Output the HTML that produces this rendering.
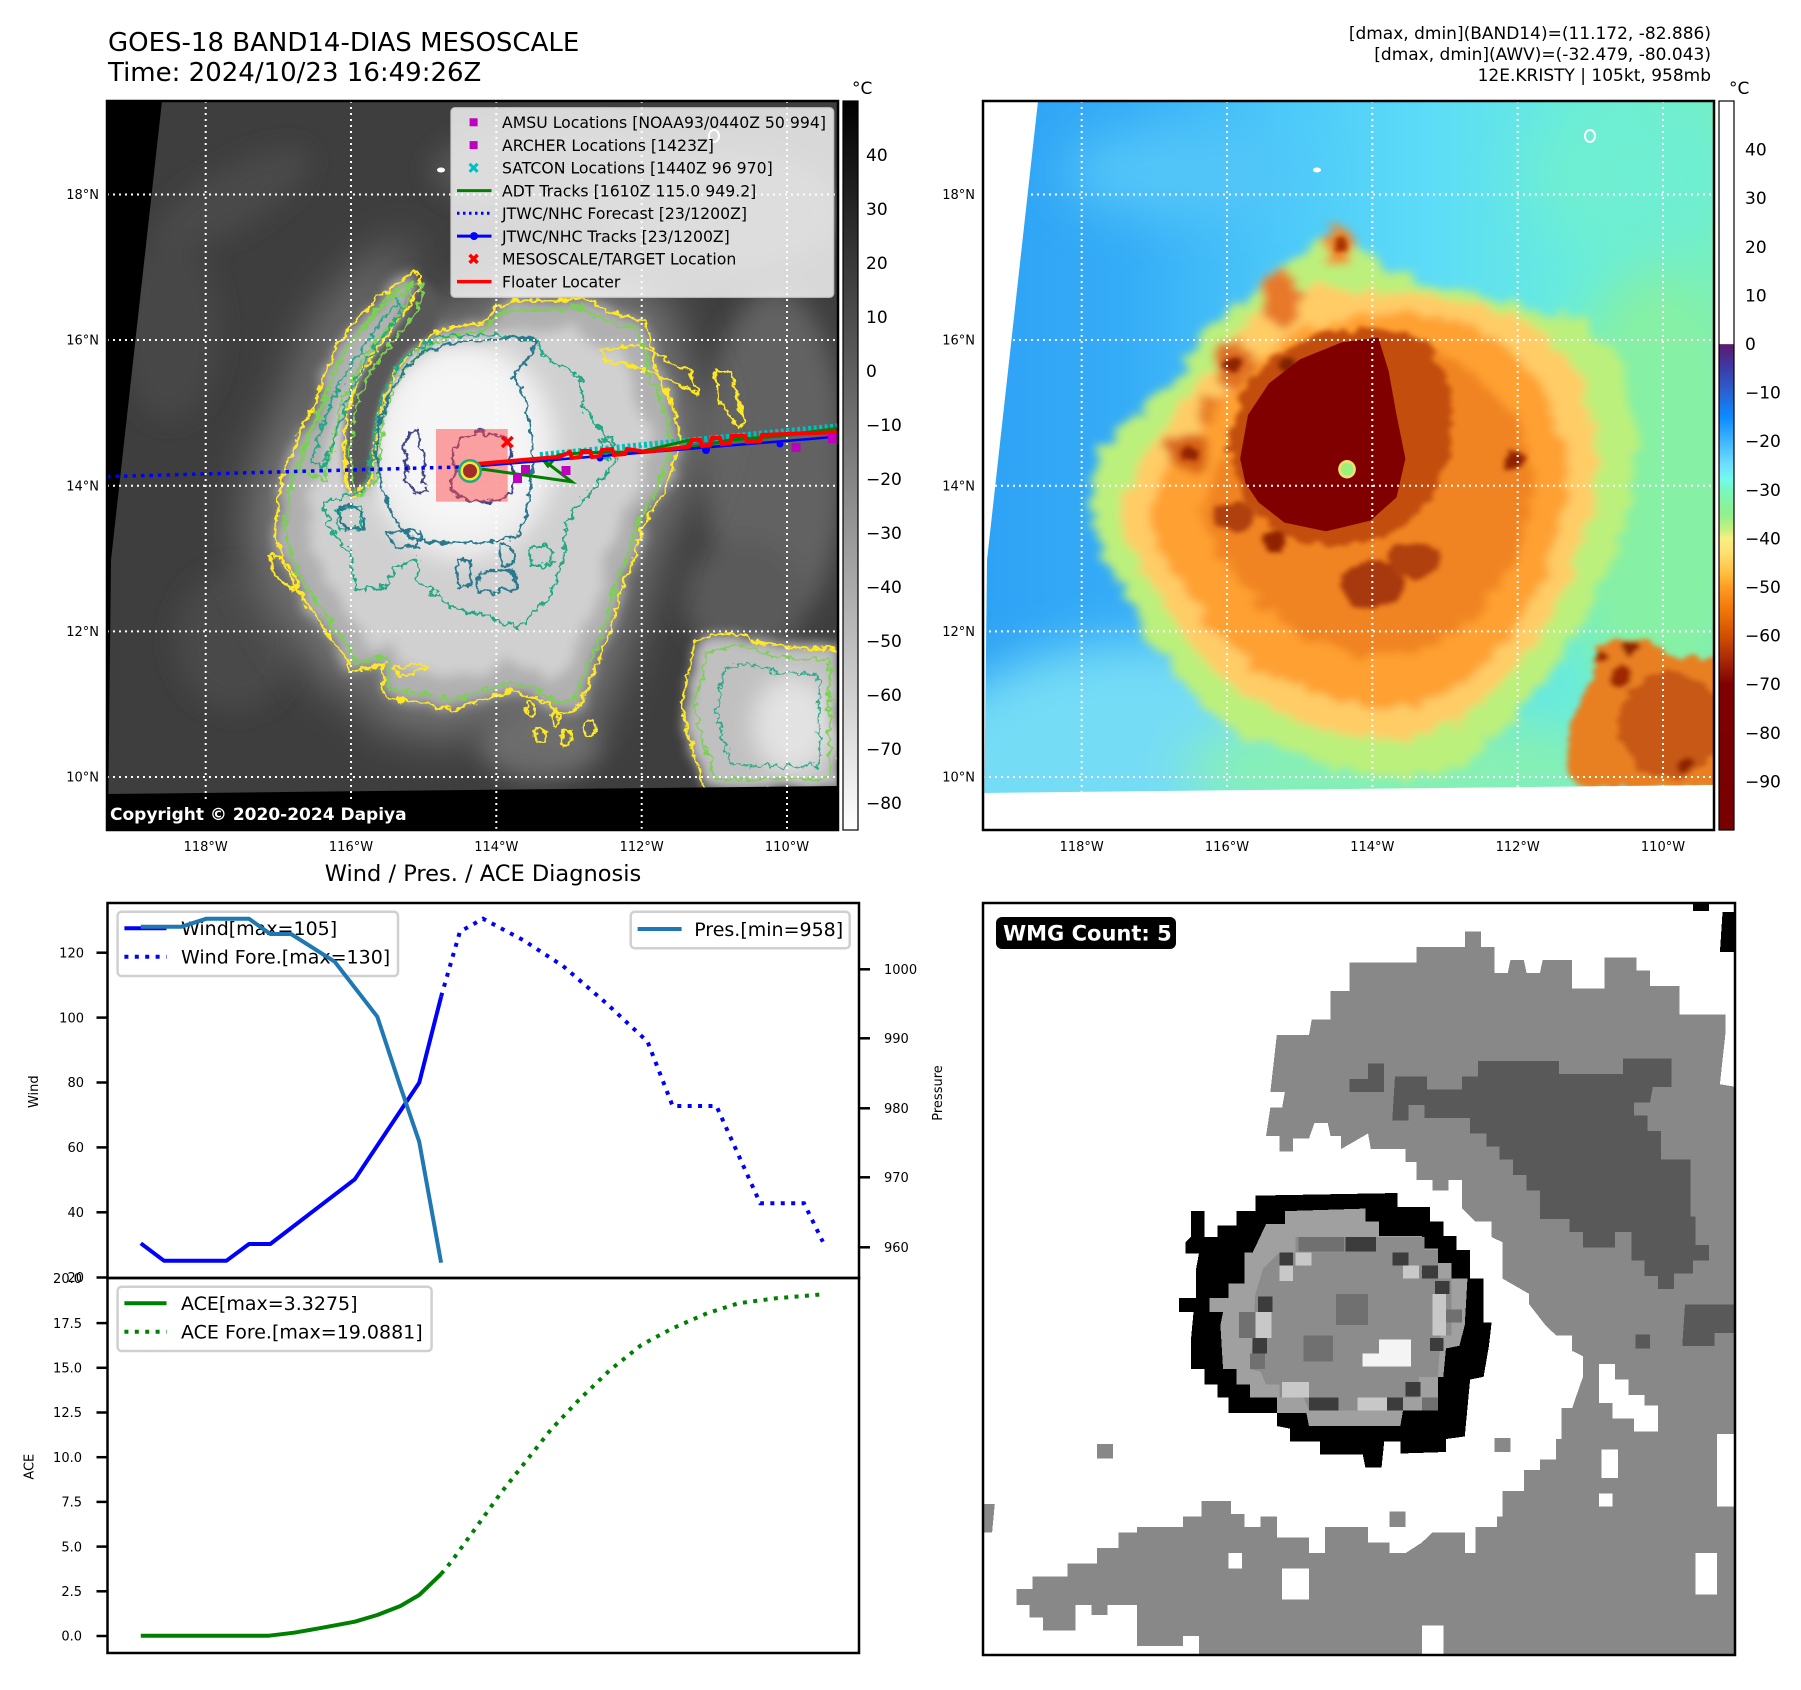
<!DOCTYPE html>
<html><head><meta charset="utf-8">
<style>html,body{margin:0;padding:0;background:#fff}svg{display:block}text{font-family:"DejaVu Sans","Liberation Sans",sans-serif}</style>
</head><body>
<svg width="1801" height="1690" viewBox="0 0 1801 1690" xmlns="http://www.w3.org/2000/svg">
<defs>
<clipPath id="cpL"><rect x="107" y="101" width="731" height="729"/></clipPath>
<clipPath id="cpR"><rect x="983" y="101" width="731" height="729"/></clipPath>
<clipPath id="cpW"><rect x="983" y="903" width="752" height="752"/></clipPath>
<filter id="b4" x="-20%" y="-20%" width="140%" height="140%"><feGaussianBlur stdDeviation="4"/></filter>
<filter id="b6" x="-20%" y="-20%" width="140%" height="140%"><feGaussianBlur stdDeviation="6"/></filter>
<filter id="b12" x="-40%" y="-40%" width="180%" height="180%"><feGaussianBlur stdDeviation="12"/></filter>
<filter id="b20" x="-50%" y="-50%" width="200%" height="200%"><feGaussianBlur stdDeviation="20"/></filter>
<filter id="ragL" x="-10%" y="-10%" width="120%" height="120%"><feTurbulence type="fractalNoise" baseFrequency="0.03" numOctaves="3" seed="8" result="n"/><feDisplacementMap in="SourceGraphic" in2="n" scale="24" xChannelSelector="R" yChannelSelector="G" result="d"/><feGaussianBlur in="d" stdDeviation="6"/></filter>
<filter id="rb4" x="-20%" y="-20%" width="140%" height="140%"><feGaussianBlur stdDeviation="5"/></filter>
<filter id="ragR" x="-10%" y="-10%" width="120%" height="120%"><feTurbulence type="fractalNoise" baseFrequency="0.03" numOctaves="3" seed="5" result="n"/><feDisplacementMap in="SourceGraphic" in2="n" scale="45" xChannelSelector="R" yChannelSelector="G" result="d"/><feGaussianBlur in="d" stdDeviation="9"/></filter>
<filter id="ragR2" x="-10%" y="-10%" width="120%" height="120%"><feTurbulence type="fractalNoise" baseFrequency="0.04" numOctaves="3" seed="9" result="n"/><feDisplacementMap in="SourceGraphic" in2="n" scale="28" xChannelSelector="R" yChannelSelector="G" result="d"/><feGaussianBlur in="d" stdDeviation="5"/></filter>
<filter id="rb40" x="-50%" y="-50%" width="200%" height="200%"><feGaussianBlur stdDeviation="50"/></filter>
<filter id="wig1" x="-10%" y="-10%" width="120%" height="120%"><feTurbulence type="fractalNoise" baseFrequency="0.12" numOctaves="3" seed="3" result="n"/><feDisplacementMap in="SourceGraphic" in2="n" scale="10" xChannelSelector="R" yChannelSelector="G"/></filter>
<filter id="wig2" x="-10%" y="-10%" width="120%" height="120%"><feTurbulence type="fractalNoise" baseFrequency="0.13" numOctaves="3" seed="11" result="n"/><feDisplacementMap in="SourceGraphic" in2="n" scale="11" xChannelSelector="R" yChannelSelector="G"/></filter>
<filter id="wig3" x="-10%" y="-10%" width="120%" height="120%"><feTurbulence type="fractalNoise" baseFrequency="0.14" numOctaves="3" seed="27" result="n"/><feDisplacementMap in="SourceGraphic" in2="n" scale="12" xChannelSelector="R" yChannelSelector="G"/></filter>
<linearGradient id="cb1" x1="0" y1="0" x2="0" y2="1"><stop offset="0" stop-color="#000"/><stop offset="1" stop-color="#fff"/></linearGradient>
<linearGradient id="cb2" x1="0" y1="0" x2="0" y2="1">
<stop offset="0" stop-color="#fff"/><stop offset="0.333" stop-color="#fff"/><stop offset="0.334" stop-color="#5c1a6e"/>
<stop offset="0.367" stop-color="#3c3ca8"/><stop offset="0.4" stop-color="#2a62d2"/><stop offset="0.433" stop-color="#0b8aff"/>
<stop offset="0.467" stop-color="#40b6ff"/><stop offset="0.5" stop-color="#70e0ff"/><stop offset="0.52" stop-color="#72fbea"/>
<stop offset="0.533" stop-color="#78f8c0"/><stop offset="0.567" stop-color="#92f08c"/><stop offset="0.587" stop-color="#c4f080"/>
<stop offset="0.6" stop-color="#f8f080"/><stop offset="0.62" stop-color="#ffe070"/><stop offset="0.647" stop-color="#ffc040"/>
<stop offset="0.667" stop-color="#ff9c20"/><stop offset="0.7" stop-color="#f07408"/><stop offset="0.733" stop-color="#d45000"/>
<stop offset="0.767" stop-color="#a82808"/><stop offset="0.8" stop-color="#800000"/><stop offset="1" stop-color="#780000"/>
</linearGradient>
<linearGradient id="rbase" x1="0" y1="0" x2="1" y2="0">
<stop offset="0" stop-color="#2ea2f5"/><stop offset="0.2" stop-color="#36adf7"/><stop offset="0.4" stop-color="#4cc8f9"/>
<stop offset="0.6" stop-color="#5cdcf8"/><stop offset="0.8" stop-color="#68ecdc"/><stop offset="1" stop-color="#76f0c0"/>
</linearGradient>
<path id="env" d="M284,473 L300,433 L316.7,400 L323.3,376.7 L336.7,346.7 L350,326.7 L370,306.7 L376.7,296.7 L390,290 L403.3,280 L413.3,271.7 L420,275 L418,290 L408,310 L392,330 L376,350 L362,372 L352,395 L346,420 L344,450 L346,480 L352,497 L372,480 L374,450 L378,420 L386,393 L398,368 L410,352 L425,341 L436.7,331.7 L466.7,325 L483.3,323.3 L496.7,306.7 L516.7,300 L543.3,301.7 L566.7,300 L583.3,296.7 L600,306.7 L623.3,316.7 L643.3,320 L650,336.7 L657.3,373 L668,394 L676,416 L680,447 L672,466 L668,482 L660,500 L645,520 L635,555 L623,585 L613,625 L602,652 L590,680 L580,707 L563,713 L540,700 L513,690 L490,697 L453,710 L420,703 L383,697 L383,663 L350,672 L342.7,654.3 L328.2,636.5 L318.5,618.7 L304,600.9 L294.3,583 L284.6,565.3 L274.9,529.7 L279.7,494 Z"/>
<path id="g54" d="M323,503 L330,530 L350,553 L357,590 L385,587 L395,570 L417,557 L417,580 L450,607 L497,620 L517,627 L535,612 L550,597 L563,563 L567,523 L580,503 L600,480 L617,460 L603,433 L583,407 L580,377 L543,357 L537,340 L483,335 L437,337 L403,357 L383,393 L377,420 L373,447 L370,473 L360,493 Z"/>
<path id="cdo" d="M410,363 L390,393 L380,420 L376.7,446.7 L378.3,473.3 L383.3,493.3 L390,510 L400,526.7 L416.7,540 L450,543 L483.3,543.3 L516.7,536.7 L526.7,513.3 L533.3,460 L526.7,400 L513.3,376.7 L526.7,360 L536.7,340 L510,338 L450,343 L423,352 Z"/>
<path id="clu" d="M689,672 L696,640 L730,633 L778,647 L840,650 L840,790 L706,790 L691,743 L681,708 Z"/>
</defs>
<rect width="1801" height="1690" fill="#fff"/>

<!-- Titles -->
<text x="108" y="51" font-size="26">GOES-18 BAND14-DIAS MESOSCALE</text>
<text x="108" y="81" font-size="26">Time: 2024/10/23 16:49:26Z</text>
<text x="1711" y="39" font-size="17" text-anchor="end">[dmax, dmin](BAND14)=(11.172, -82.886)</text>
<text x="1711" y="60" font-size="17" text-anchor="end">[dmax, dmin](AWV)=(-32.479, -80.043)</text>
<text x="1711" y="81" font-size="17" text-anchor="end">12E.KRISTY | 105kt, 958mb</text>

<!-- LEFT MAP -->
<g clip-path="url(#cpL)">
<rect x="107" y="101" width="731" height="729" fill="#3e3e3e"/>
<g filter="url(#b12)">
<ellipse cx="230" cy="200" rx="90" ry="30" fill="#4a4a4a" transform="rotate(-30 230 200)"/>
<ellipse cx="170" cy="330" rx="50" ry="90" fill="#464646"/>
<ellipse cx="560" cy="170" rx="130" ry="45" fill="#525252"/>
<ellipse cx="720" cy="210" rx="120" ry="60" fill="#585858"/>
<ellipse cx="775" cy="460" rx="70" ry="170" fill="#626262"/>
<ellipse cx="745" cy="600" rx="60" ry="60" fill="#5a5a5a"/>
<ellipse cx="235" cy="640" rx="60" ry="70" fill="#4a4a4a"/>
<ellipse cx="540" cy="745" rx="60" ry="35" fill="#6a6a6a"/>
</g>
<use href="#env" transform="translate(486,500) scale(1.14) translate(-486,-500)" fill="#767676" filter="url(#b20)"/>
<g filter="url(#ragL)">
<use href="#env" fill="#b0b0b0"/>
<use href="#env" transform="translate(486,500) scale(0.85) translate(-486,-500)" fill="#d0d0d0"/>
<use href="#clu" fill="#c0c0c0"/>
</g>
<ellipse cx="462" cy="450" rx="95" ry="110" fill="#eeeeee" filter="url(#b12)"/>
<ellipse cx="462" cy="445" rx="70" ry="85" fill="#f6f6f6" filter="url(#b12)"/>
<polygon points="418,290 408,310 392,330 376,350 362,372 352,395 346,420 344,450 346,480 352,497 372,480 374,450 378,420 386,393 398,368 410,352 425,341 436,331 440,300 425,280" fill="#585858" filter="url(#b4)"/>
<ellipse cx="792" cy="725" rx="40" ry="50" fill="#e2e2e2" filter="url(#b12)"/>
<!-- contours -->
<g fill="none" stroke-width="2.4" stroke-linejoin="round">
<g filter="url(#wig1)">
<use href="#env" stroke="#fde725"/>
<use href="#clu" stroke="#fde725"/>
<path d="M600,350 L640,345 L690,372 L700,395 L670,380 L630,365 L605,362 Z M715,370 L730,372 L745,420 L738,430 L720,400 Z M270,555 L285,560 L300,585 L290,590 L275,575 Z M395,668 L420,663 L428,668 L400,678 Z" stroke="#fde725"/>
<ellipse cx="540" cy="735" rx="6" ry="8" stroke="#fde725"/><ellipse cx="566" cy="738" rx="5" ry="9" stroke="#fde725"/><ellipse cx="590" cy="728" rx="6" ry="8" stroke="#fde725"/>
<ellipse cx="530" cy="710" rx="5" ry="7" stroke="#fde725"/><ellipse cx="555" cy="718" rx="4" ry="8" stroke="#fde725"/>
</g>
<g filter="url(#wig2)">
<use href="#env" transform="translate(486,500) scale(0.955) translate(-486,-500)" stroke="#7ad151"/>
<use href="#clu" transform="translate(770,715) scale(0.85) translate(-770,-715)" stroke="#7ad151"/>
<path d="M300,470 L310,430 L325,395 L340,360 L360,330 L385,300 L410,282 L412,295 L395,320 L372,345 L356,370 L343,400 L333,440 L325,480 Z" stroke="#7ad151"/>
</g>
<g filter="url(#wig3)">
<use href="#g54" stroke="#22a884"/>
<use href="#clu" transform="translate(780,720) scale(0.65) translate(-780,-720)" stroke="#22a884"/>
<path d="M312,460 L322,425 L335,395 L350,365 L372,335 L398,300 L403,310 L380,340 L360,372 L346,405 L334,440 L324,470 Z" stroke="#22a884"/>
<path d="M530,547 L550,545 L552,565 L532,567 Z M600,440 L612,438 L615,455 L602,458 Z M338,510 L360,507 L363,528 L340,530 Z" stroke="#22a884"/>
</g>
<g filter="url(#wig1)">
<use href="#cdo" stroke="#2a788e"/>
<path d="M457,560 L470,561 L471,585 L458,587 Z M477,575 L495,570 L515,572 L517,588 L495,592 L478,590 Z M387,533 L405,530 L420,533 L418,547 L395,548 Z M337,508 L350,506 L362,512 L363,528 L345,530 Z M500,545 L512,547 L514,565 L502,566 Z" stroke="#2a788e"/>
<path d="M410,432 L418,430 L420,445 L425,460 L423,480 L428,490 L415,493 L405,480 L408,460 L404,445 Z" stroke="#414487"/>
<path d="M463,437 L480,432 L500,436 L512,445 L510,460 L515,475 L512,490 L500,500 L480,502 L460,498 L450,488 L455,470 L452,455 L458,445 Z" stroke="#414487"/>
</g>
</g>
<ellipse cx="714" cy="136" rx="5" ry="6" fill="none" stroke="#fff" stroke-width="2"/>
<ellipse cx="441" cy="170" rx="4" ry="2.5" fill="#fff"/>
<!-- black no-data areas -->
<polygon points="107,101 162,101 111,560 108,830 107,830" fill="#000"/>
<polygon points="107,794 838,786 838,830 107,830" fill="#000"/>
<!-- gridlines -->
<g stroke="#fff" stroke-width="2" stroke-dasharray="2 4">
<line x1="205.7" y1="101" x2="205.7" y2="830"/><line x1="351" y1="101" x2="351" y2="830"/><line x1="496.3" y1="101" x2="496.3" y2="830"/><line x1="641.7" y1="101" x2="641.7" y2="830"/><line x1="787" y1="101" x2="787" y2="830"/>
<line x1="107" y1="194.5" x2="838" y2="194.5"/><line x1="107" y1="340" x2="838" y2="340"/><line x1="107" y1="485.7" x2="838" y2="485.7"/><line x1="107" y1="631.4" x2="838" y2="631.4"/><line x1="107" y1="777" x2="838" y2="777"/>
</g>
<!-- tracks -->
<rect x="436" y="429" width="71.7" height="72.7" fill="#ff4a4a" opacity="0.5"/>
<line x1="107" y1="476.6" x2="470" y2="466.7" stroke="#0000ff" stroke-width="3.5" stroke-dasharray="3.5 5"/>
<path d="M540,455 L840,426" stroke="#00bfbf" stroke-width="6" stroke-dasharray="3 2.5" fill="none"/>
<polyline points="470,471 483.3,469.3 571.7,481.7 543.3,460 548,466 558,455 583.3,452.7 640,451.7 690,440 686.7,448.3 700,446 730,440 780,436 840,428" fill="none" stroke="#008000" stroke-width="3"/>
<line x1="470" y1="466.7" x2="840" y2="436.5" stroke="#0000ff" stroke-width="2.5"/>
<g fill="#0000ff"><circle cx="600" cy="458" r="3.5"/><circle cx="706" cy="450" r="4"/><circle cx="780" cy="444" r="3.5"/></g>
<polyline points="465,465 560,456.7 570,452 572,458 580,457 582,451 590,451 592,457 600,456 602,450 612,449 614,455 625,454 627,449 640,451 645,452 689,446.7 692,440 700,440 702,446 710,445 712,438 720,438 722,444 730,443 732,436 745,436 747,442 760,441 762,435 840,432" fill="none" stroke="#ff0000" stroke-width="4" stroke-linejoin="miter"/>
<g fill="#bf00bf"><rect x="521" y="465" width="9" height="9"/><rect x="513" y="474" width="9" height="9"/><rect x="561.5" y="466" width="9" height="9"/><rect x="791.5" y="443" width="9" height="9"/><rect x="828" y="434" width="9" height="9"/></g>
<path d="M502,437 L512.6,447 M512.6,437 L502,447" stroke="#ff0000" stroke-width="3.5"/>
<circle cx="470" cy="471" r="12" fill="#22a884"/><circle cx="470" cy="471" r="9.5" fill="#fde725"/><circle cx="470" cy="471" r="7" fill="#a02c2c"/>
<!-- copyright -->
<rect x="104" y="801" width="314" height="32" rx="4" fill="#000"/>
<text x="110" y="820" font-size="17" font-weight="bold" fill="#fff">Copyright © 2020-2024 Dapiya</text>
<!-- legend -->
<rect x="451" y="107.7" width="382.6" height="189.6" rx="4" fill="#fff" fill-opacity="0.8" stroke="#ccc" stroke-opacity="0.8" stroke-width="1.5"/>
<g font-size="15.7" fill="#000">
<text x="502" y="128">AMSU Locations [NOAA93/0440Z 50 994]</text>
<text x="502" y="150.8">ARCHER Locations [1423Z]</text>
<text x="502" y="173.6">SATCON Locations [1440Z 96 970]</text>
<text x="502" y="196.3">ADT Tracks [1610Z 115.0 949.2]</text>
<text x="502" y="219.1">JTWC/NHC Forecast [23/1200Z]</text>
<text x="502" y="241.9">JTWC/NHC Tracks [23/1200Z]</text>
<text x="502" y="264.7">MESOSCALE/TARGET Location</text>
<text x="502" y="287.4">Floater Locater</text>
</g>
<rect x="469.6" y="118.3" width="8" height="8" fill="#bf00bf"/>
<rect x="469.6" y="141.1" width="8" height="8" fill="#bf00bf"/>
<path d="M469.6,163.8 L477.6,171.8 M477.6,163.8 L469.6,171.8" stroke="#00bfbf" stroke-width="3"/>
<line x1="457" y1="190.6" x2="491.5" y2="190.6" stroke="#008000" stroke-width="3"/>
<line x1="457" y1="213.3" x2="491.5" y2="213.3" stroke="#0000ff" stroke-width="3" stroke-dasharray="2.5 3.5"/>
<line x1="457" y1="236.1" x2="491.5" y2="236.1" stroke="#0000ff" stroke-width="3"/><circle cx="474" cy="236.1" r="4" fill="#0000ff"/>
<path d="M469.6,254.9 L477.6,262.9 M477.6,254.9 L469.6,262.9" stroke="#ff0000" stroke-width="3.5"/>
<line x1="457" y1="281.6" x2="491.5" y2="281.6" stroke="#ff0000" stroke-width="3.5"/>
</g>
<rect x="107" y="101" width="731" height="729" fill="none" stroke="#000" stroke-width="2.5"/>
<!-- CB1 -->
<rect x="843" y="101" width="15" height="729" fill="url(#cb1)" stroke="#000" stroke-width="1.2"/>
<text x="852" y="94" font-size="17">°C</text>
<g font-size="17">
<text x="866" y="161">40</text><text x="866" y="215">30</text><text x="866" y="269">20</text><text x="866" y="323">10</text><text x="866" y="377">0</text>
<text x="866" y="431">−10</text><text x="866" y="485">−20</text><text x="866" y="539">−30</text><text x="866" y="593">−40</text><text x="866" y="647">−50</text>
<text x="866" y="701">−60</text><text x="866" y="755">−70</text><text x="866" y="809">−80</text>
</g>
<!-- Map tick labels -->
<g font-size="13">
<text x="99" y="199" text-anchor="end">18°N</text><text x="99" y="344.7" text-anchor="end">16°N</text><text x="99" y="490.4" text-anchor="end">14°N</text><text x="99" y="636" text-anchor="end">12°N</text><text x="99" y="781.7" text-anchor="end">10°N</text>
<text x="205.7" y="851" text-anchor="middle">118°W</text><text x="351" y="851" text-anchor="middle">116°W</text><text x="496.3" y="851" text-anchor="middle">114°W</text><text x="641.7" y="851" text-anchor="middle">112°W</text><text x="787" y="851" text-anchor="middle">110°W</text>
<text x="975" y="199" text-anchor="end">18°N</text><text x="975" y="344.7" text-anchor="end">16°N</text><text x="975" y="490.4" text-anchor="end">14°N</text><text x="975" y="636" text-anchor="end">12°N</text><text x="975" y="781.7" text-anchor="end">10°N</text>
<text x="1081.7" y="851" text-anchor="middle">118°W</text><text x="1227" y="851" text-anchor="middle">116°W</text><text x="1372.3" y="851" text-anchor="middle">114°W</text><text x="1517.7" y="851" text-anchor="middle">112°W</text><text x="1663" y="851" text-anchor="middle">110°W</text>
</g>

<!-- RIGHT MAP -->
<g clip-path="url(#cpR)">
<g transform="translate(982.1,100) scale(0.5213,0.4846)">
<rect x="0" y="0" width="1420" height="1520" fill="url(#rbase)"/>
<g filter="url(#rb40)">
<ellipse cx="380" cy="150" rx="220" ry="90" fill="#52c6f8"/>
<ellipse cx="300" cy="1380" rx="420" ry="260" fill="#74dcf6"/>
<ellipse cx="1300" cy="800" rx="200" ry="450" fill="#86f0a4"/>
<ellipse cx="800" cy="1380" rx="420" ry="120" fill="#86f0b4"/>
<ellipse cx="1250" cy="150" rx="200" ry="150" fill="#6eeed2"/>
</g>
<g filter="url(#ragR)">
<polygon points="200,830 230,720 300,640 380,560 430,470 520,400 580,330 660,280 720,300 780,350 860,380 950,400 1050,430 1150,450 1230,550 1260,700 1240,850 1200,980 1150,1080 1080,1200 1000,1300 920,1380 820,1400 700,1390 600,1350 480,1300 400,1220 330,1130 280,1020 230,930" fill="#bcf07c"/>
<polygon points="260,850 300,750 360,670 420,580 480,490 560,410 650,380 760,400 860,400 960,420 1060,470 1140,560 1180,700 1170,850 1130,980 1070,1100 990,1210 900,1290 800,1320 700,1310 600,1280 500,1230 420,1150 360,1060 300,960" fill="#ffcc66"/>
<polygon points="320,860 350,770 410,700 470,600 540,520 620,470 720,450 830,440 930,460 1020,520 1090,620 1120,750 1110,880 1070,1000 1010,1110 930,1200 830,1250 720,1250 620,1220 520,1170 440,1090 380,1000 340,930" fill="#ffa030"/>
<polygon points="420,860 450,780 500,700 560,620 640,560 750,520 870,520 960,570 1030,660 1060,780 1040,900 990,1010 920,1090 830,1140 720,1150 620,1110 540,1050 470,970" fill="#f08424"/>
<ellipse cx="685" cy="305" rx="28" ry="45" fill="#f08a2a"/>
<ellipse cx="575" cy="410" rx="38" ry="58" fill="#e8782a"/>
<ellipse cx="480" cy="545" rx="42" ry="48" fill="#e07020"/>
<ellipse cx="430" cy="640" rx="22" ry="32" fill="#e88028"/>
<ellipse cx="395" cy="725" rx="38" ry="42" fill="#d86418"/>
</g>
<g filter="url(#ragR2)">
<polygon points="470,720 500,600 560,530 650,480 760,470 860,500 900,600 900,720 860,830 780,900 680,920 580,900 510,840" fill="#c24e0c"/>
<ellipse cx="750" cy="1000" rx="60" ry="50" fill="#a83808"/>
<ellipse cx="830" cy="950" rx="50" ry="40" fill="#b04010"/>
<ellipse cx="480" cy="860" rx="40" ry="30" fill="#b04010"/>
<ellipse cx="560" cy="910" rx="25" ry="20" fill="#902000"/>
<ellipse cx="1020" cy="745" rx="18" ry="20" fill="#902000"/>
<ellipse cx="585" cy="550" rx="18" ry="20" fill="#802000"/>
<ellipse cx="480" cy="545" rx="14" ry="14" fill="#902000"/>
<ellipse cx="395" cy="725" rx="15" ry="16" fill="#902000"/>
<ellipse cx="690" cy="300" rx="10" ry="14" fill="#a83000"/>
</g>
<polygon points="495,740 510,650 550,585 610,535 690,500 760,490 780,560 795,650 812,740 795,820 745,868 660,890 580,872 530,830 505,790" fill="#800000"/>
<ellipse cx="700" cy="762" rx="17" ry="19" fill="#f0e070"/>
<ellipse cx="700" cy="762" rx="12" ry="13" fill="#9cf07c"/>
<g filter="url(#ragR2)">
<polygon points="1120,1380 1130,1280 1170,1200 1180,1130 1220,1110 1290,1120 1330,1150 1420,1150 1420,1420 1150,1420" fill="#e88020"/>
<ellipse cx="1320" cy="1290" rx="100" ry="110" fill="#c85814"/>
<ellipse cx="1240" cy="1130" rx="15" ry="16" fill="#902000"/>
<ellipse cx="1225" cy="1190" rx="22" ry="22" fill="#a02800"/>
<ellipse cx="1190" cy="1150" rx="12" ry="12" fill="#a02800"/>
<ellipse cx="1350" cy="1370" rx="14" ry="14" fill="#902000"/>
</g>
</g>
<ellipse cx="1590" cy="136" rx="5" ry="6" fill="none" stroke="#fff" stroke-width="2"/>
<ellipse cx="1317" cy="170" rx="4" ry="2.5" fill="#fff"/>
<polygon points="983,101 1038,101 987,560 984,830 983,830" fill="#fff"/>
<polygon points="983,793 1714,785 1714,830 983,830" fill="#fff"/>
<g stroke="#fff" stroke-width="2" stroke-dasharray="2 4">
<line x1="1081.7" y1="101" x2="1081.7" y2="830"/><line x1="1227" y1="101" x2="1227" y2="830"/><line x1="1372.3" y1="101" x2="1372.3" y2="830"/><line x1="1517.7" y1="101" x2="1517.7" y2="830"/><line x1="1663" y1="101" x2="1663" y2="830"/>
<line x1="983" y1="194.5" x2="1714" y2="194.5"/><line x1="983" y1="340" x2="1714" y2="340"/><line x1="983" y1="485.7" x2="1714" y2="485.7"/><line x1="983" y1="631.4" x2="1714" y2="631.4"/><line x1="983" y1="777" x2="1714" y2="777"/>
</g>
</g>
<rect x="983" y="101" width="731" height="729" fill="none" stroke="#000" stroke-width="2.5"/>
<!-- CB2 -->
<rect x="1719" y="101" width="15" height="729" fill="url(#cb2)" stroke="#000" stroke-width="1.2"/>
<text x="1729" y="94" font-size="17">°C</text>
<g font-size="17">
<text x="1745" y="155.6">40</text><text x="1745" y="204.2">30</text><text x="1745" y="252.8">20</text><text x="1745" y="301.4">10</text><text x="1745" y="350">0</text>
<text x="1745" y="398.6">−10</text><text x="1745" y="447.2">−20</text><text x="1745" y="495.8">−30</text><text x="1745" y="544.4">−40</text><text x="1745" y="593">−50</text>
<text x="1745" y="641.6">−60</text><text x="1745" y="690.2">−70</text><text x="1745" y="738.8">−80</text><text x="1745" y="787.4">−90</text>
</g>

<!-- WIND / PRES CHART -->
<text x="483" y="881" font-size="22.5" text-anchor="middle">Wind / Pres. / ACE Diagnosis</text>
<g stroke="#000" stroke-width="2.5">
<line x1="96.5" y1="952.7" x2="107.5" y2="952.7"/><line x1="96.5" y1="1017.6" x2="107.5" y2="1017.6"/><line x1="96.5" y1="1082.5" x2="107.5" y2="1082.5"/><line x1="96.5" y1="1147.4" x2="107.5" y2="1147.4"/><line x1="96.5" y1="1212.3" x2="107.5" y2="1212.3"/><line x1="96.5" y1="1277.5" x2="107.5" y2="1277.5"/>
<line x1="859" y1="969.3" x2="870" y2="969.3"/><line x1="859" y1="1038.3" x2="870" y2="1038.3"/><line x1="859" y1="1108.3" x2="870" y2="1108.3"/><line x1="859" y1="1177.3" x2="870" y2="1177.3"/><line x1="859" y1="1247.3" x2="870" y2="1247.3"/>
<line x1="96.5" y1="1323.1" x2="107.5" y2="1323.1"/><line x1="96.5" y1="1367.8" x2="107.5" y2="1367.8"/><line x1="96.5" y1="1412.5" x2="107.5" y2="1412.5"/><line x1="96.5" y1="1457.2" x2="107.5" y2="1457.2"/><line x1="96.5" y1="1501.9" x2="107.5" y2="1501.9"/><line x1="96.5" y1="1546.6" x2="107.5" y2="1546.6"/><line x1="96.5" y1="1591.3" x2="107.5" y2="1591.3"/><line x1="96.5" y1="1636" x2="107.5" y2="1636"/>
</g>
<g font-size="13" text-anchor="end">
<text x="84" y="957.4">120</text><text x="84" y="1022.3">100</text><text x="84" y="1087.2">80</text><text x="84" y="1152.1">60</text><text x="84" y="1217">40</text><text x="84" y="1282.2">20</text>
<text x="82" y="1283.1">20.0</text><text x="82" y="1327.8">17.5</text><text x="82" y="1372.5">15.0</text><text x="82" y="1417.2">12.5</text><text x="82" y="1461.9">10.0</text><text x="82" y="1506.6">7.5</text><text x="82" y="1551.3">5.0</text><text x="82" y="1596">2.5</text><text x="82" y="1640.7">0.0</text>
</g>
<g font-size="13">
<text x="884" y="974">1000</text><text x="884" y="1043">990</text><text x="884" y="1113">980</text><text x="884" y="1182">970</text><text x="884" y="1252">960</text>
</g>
<text x="0" y="0" font-size="13" text-anchor="middle" dominant-baseline="central" transform="translate(34.4,1091.7) rotate(-90)">Wind</text>
<text x="0" y="0" font-size="13" text-anchor="middle" dominant-baseline="central" transform="translate(938.6,1093) rotate(-90)">Pressure</text>
<text x="0" y="0" font-size="13" text-anchor="middle" dominant-baseline="central" transform="translate(30,1466.7) rotate(-90)">ACE</text>
<!-- wind lines -->
<polyline points="140.8,1243.3 163.9,1260.7 226.5,1260.7 249,1244 270.3,1244 354.8,1179.3 419.2,1082.7 441.1,996.7" fill="none" stroke="#0000ff" stroke-width="4" stroke-linejoin="round"/>
<polyline points="441.1,996.7 459.9,931.7 483,918.7 523,940 563,966 606,1003 647.6,1041.7 672.6,1106 716.4,1106 760.2,1203.3 804,1203.3 822.8,1241.7" fill="none" stroke="#0000ff" stroke-width="4" stroke-dasharray="4 6.4"/>
<rect x="117.6" y="911.7" width="280.4" height="64.3" rx="4" fill="#fff" fill-opacity="0.8" stroke="#d0d0d0" stroke-width="2.5"/>
<line x1="124.4" y1="928.3" x2="166.5" y2="928.3" stroke="#0000ff" stroke-width="4"/>
<line x1="124.4" y1="956.7" x2="166.5" y2="956.7" stroke="#0000ff" stroke-width="4" stroke-dasharray="4 6.4"/>
<text x="181" y="935.2" font-size="19">Wind[max=105]</text>
<text x="181" y="963.6" font-size="19">Wind Fore.[max=130]</text>
<!-- pressure -->
<polyline points="140.8,926.7 181.5,926.7 206.5,918.7 249,918.7 270.3,934 291,934 334.7,961.7 377.3,1016.7 400.4,1086.7 419.2,1141.7 441.1,1262.7" fill="none" stroke="#1f77b4" stroke-width="4" stroke-linejoin="round"/>
<rect x="630.7" y="911.7" width="219" height="36.6" rx="4" fill="#fff" fill-opacity="0.8" stroke="#d0d0d0" stroke-width="2.5"/>
<line x1="637.6" y1="929" x2="681.6" y2="929" stroke="#1f77b4" stroke-width="4"/>
<text x="694.2" y="935.9" font-size="19">Pres.[min=958]</text>
<rect x="107.5" y="903" width="751.5" height="375" fill="none" stroke="#000" stroke-width="2.5"/>
<!-- ACE -->
<polyline points="140.8,1635.7 269,1635.7 294.1,1632.7 319.1,1628.3 354.8,1621.7 377.3,1615 400.4,1606 419.2,1595 441.1,1574" fill="none" stroke="#008000" stroke-width="4" stroke-linejoin="round"/>
<polyline points="441.1,1574 450.5,1562.7 475.5,1528.3 500.6,1493.3 525.6,1461.7 550.6,1430 578.8,1400 610,1370 641.3,1345 672.6,1328.3 707,1313.3 738.3,1303.3 775.9,1298.3 822.8,1294.3" fill="none" stroke="#008000" stroke-width="4" stroke-dasharray="4 6.4"/>
<rect x="117.6" y="1286.7" width="314" height="64.3" rx="4" fill="#fff" fill-opacity="0.8" stroke="#d0d0d0" stroke-width="2.5"/>
<line x1="124.4" y1="1303.3" x2="166.5" y2="1303.3" stroke="#008000" stroke-width="4"/>
<line x1="124.4" y1="1331.7" x2="166.5" y2="1331.7" stroke="#008000" stroke-width="4" stroke-dasharray="4 6.4"/>
<text x="181" y="1310.2" font-size="19">ACE[max=3.3275]</text>
<text x="181" y="1338.6" font-size="19">ACE Fore.[max=19.0881]</text>
<rect x="107.5" y="1278" width="751.5" height="375" fill="none" stroke="#000" stroke-width="2.5"/>

<!-- WMG -->
<g clip-path="url(#cpW)">
<rect x="983" y="903" width="752" height="752" fill="#fff"/>
<g transform="translate(959.9,879.7) scale(0.5371,0.5179)" shape-rendering="crispEdges">
<polygon fill="#888" points="570,495 578,440 600,440 605,410 578,410 590,300 650,300 655,270 690,270 690,215 725,215 725,160 850,160 850,130 940,130 940,100 970,100 970,130 995,130 995,180 1020,180 1025,155 1050,155 1055,180 1080,180 1085,155 1140,155 1140,210 1200,210 1200,150 1260,150 1260,175 1285,175 1285,205 1340,205 1340,260 1425,260 1425,300 1415,395 1445,400 1445,1500 445,1500 445,1460 415,1460 415,1480 330,1480 330,1400 275,1400 275,1420 245,1420 245,1400 215,1400 215,1450 155,1450 155,1425 130,1425 130,1400 105,1400 105,1370 135,1370 135,1345 200,1345 200,1320 255,1320 255,1290 295,1290 295,1260 330,1260 330,1250 415,1250 415,1230 450,1230 450,1200 505,1200 505,1225 530,1225 530,1250 560,1250 560,1230 590,1230 590,1270 650,1270 650,1300 680,1300 680,1250 760,1250 760,1280 800,1280 800,1300 830,1300 860,1280 880,1260 940,1260 940,1300 960,1300 960,1250 1000,1250 1000,1230 1010,1230 1010,1180 1050,1180 1050,1140 1080,1140 1080,1120 1110,1120 1110,1080 1120,1080 1120,1020 1140,1020 1160,960 1160,920 1140,910 1140,880 1110,880 1090,860 1060,820 1060,800 1010,770 1010,700 990,690 990,660 960,660 935,635 935,580 910,580 910,600 880,600 880,580 850,580 850,545 830,545 830,520 765,520 760,490 710,520 710,495 690,495 685,470 660,470 650,500 620,500 620,525 595,525 595,495"/>
<g fill="#fff">
<polygon points="1190,935 1220,935 1220,965 1245,965 1245,995 1275,995 1275,1015 1300,1015 1300,1065 1255,1065 1255,1040 1215,1040 1215,1010 1190,1010"/>
<rect x="1410" y="1070" width="35" height="140"/>
<rect x="1195" y="1100" width="30" height="55"/>
<rect x="1190" y="1185" width="25" height="25"/>
<rect x="860" y="1440" width="40" height="60"/>
<rect x="600" y="1330" width="50" height="60"/>
<rect x="1370" y="1300" width="40" height="80"/>
<rect x="500" y="1300" width="25" height="30"/>
</g>
<polygon fill="#595959" points="810,380 870,380 870,405 935,405 935,380 965,380 965,350 1115,350 1115,375 1235,375 1235,345 1325,345 1325,400 1290,400 1285,430 1255,430 1255,455 1280,455 1280,485 1305,485 1305,540 1360,540 1360,650 1370,650 1370,705 1395,705 1395,735 1365,735 1365,760 1330,760 1330,790 1300,790 1300,765 1275,765 1275,735 1250,735 1250,680 1220,680 1220,710 1160,710 1160,680 1135,680 1135,655 1080,655 1080,600 1055,600 1055,570 1030,570 1030,540 1005,540 1005,515 980,515 980,490 950,490 950,460 865,460 865,435 835,435 835,465 805,465"/>
<polygon fill="#595959" points="725,385 760,385 760,355 790,355 790,410 725,410"/>
<polygon fill="#595959" points="1350,820 1445,820 1445,875 1405,875 1405,900 1345,900"/>
<rect x="1258" y="878" width="27" height="27" fill="#595959"/>
<g fill="#000"><rect x="1365" y="45" width="30" height="15"/><polygon points="1420,62 1445,62 1445,140 1415,140"/></g>
<g fill="#888">
<polygon points="45,1205 65,1205 60,1260 45,1260"/>
<rect x="255" y="1090" width="30" height="28"/>
<rect x="995" y="1078" width="30" height="27"/>
<rect x="800" y="1220" width="30" height="30"/>
</g>
<polygon fill="#000" points="430,640 455,640 455,690 480,690 480,668 515,668 515,640 550,640 550,610 815,605 815,632 875,632 875,660 900,660 900,688 925,688 925,715 950,715 950,770 975,770 975,855 990,855 985,900 975,960 950,965 945,1020 940,1075 905,1080 905,1105 820,1108 820,1085 790,1085 785,1135 755,1135 750,1110 670,1110 670,1085 615,1085 615,1060 590,1055 590,1030 500,1030 500,1000 480,1000 480,975 455,975 455,945 430,945 430,890 435,835 408,835 408,808 440,808 440,750 445,722 420,722 420,700 430,690"/>
<polygon fill="#a0a0a0" points="605,640 755,635 755,660 780,660 780,688 860,688 860,712 890,712 890,740 915,740 915,770 945,770 940,860 930,900 905,905 900,960 890,960 890,1000 860,1000 860,1025 825,1025 820,1055 650,1055 645,1030 590,1030 590,1000 540,1000 540,975 515,975 515,945 490,945 485,860 490,835 465,835 465,808 500,808 500,780 530,780 530,720 545,720 570,665 605,665"/>
<polygon fill="#8c8c8c" points="625,690 865,690 865,715 890,715 890,770 915,770 915,880 895,880 890,960 855,960 855,1000 820,1000 820,1025 650,1025 640,1000 595,1000 595,975 570,975 560,950 540,945 545,885 550,800 565,750 595,720 625,720"/>
<g fill="#707070"><rect x="630" y="690" width="85" height="28"/><rect x="520" y="835" width="30" height="50"/><rect x="540" y="915" width="28" height="30"/><rect x="860" y="1000" width="30" height="25"/><rect x="905" y="830" width="30" height="25"/><rect x="700" y="800" width="60" height="60"/><rect x="640" y="880" width="55" height="50"/></g>
<g fill="#3c3c3c"><rect x="718" y="690" width="57" height="28"/><rect x="595" y="720" width="25" height="25"/><rect x="555" y="805" width="27" height="30"/><rect x="545" y="885" width="27" height="30"/><rect x="805" y="720" width="30" height="25"/><rect x="860" y="745" width="30" height="25"/><rect x="885" y="775" width="27" height="25"/><rect x="875" y="885" width="25" height="25"/><rect x="830" y="970" width="28" height="28"/><rect x="650" y="1000" width="55" height="25"/><rect x="795" y="1000" width="30" height="25"/></g>
<g fill="#c8c8c8"><rect x="595" y="745" width="25" height="30"/><rect x="550" y="835" width="30" height="50"/><rect x="880" y="800" width="25" height="80"/><rect x="825" y="745" width="30" height="25"/><rect x="600" y="970" width="50" height="30"/><rect x="740" y="1000" width="55" height="25"/><rect x="625" y="720" width="30" height="25"/></g>
<polygon fill="#f4f4f4" points="780,888 840,888 840,940 750,940 750,915 780,915"/>
</g>
</g>
<rect x="983" y="903" width="752" height="752" fill="none" stroke="#000" stroke-width="2.5"/>
<rect x="996" y="917" width="180" height="32" rx="6" fill="#000"/>
<text x="1003" y="940.5" font-size="21" font-weight="bold" fill="#fff">WMG Count: 5</text>
</svg>
</body></html>
